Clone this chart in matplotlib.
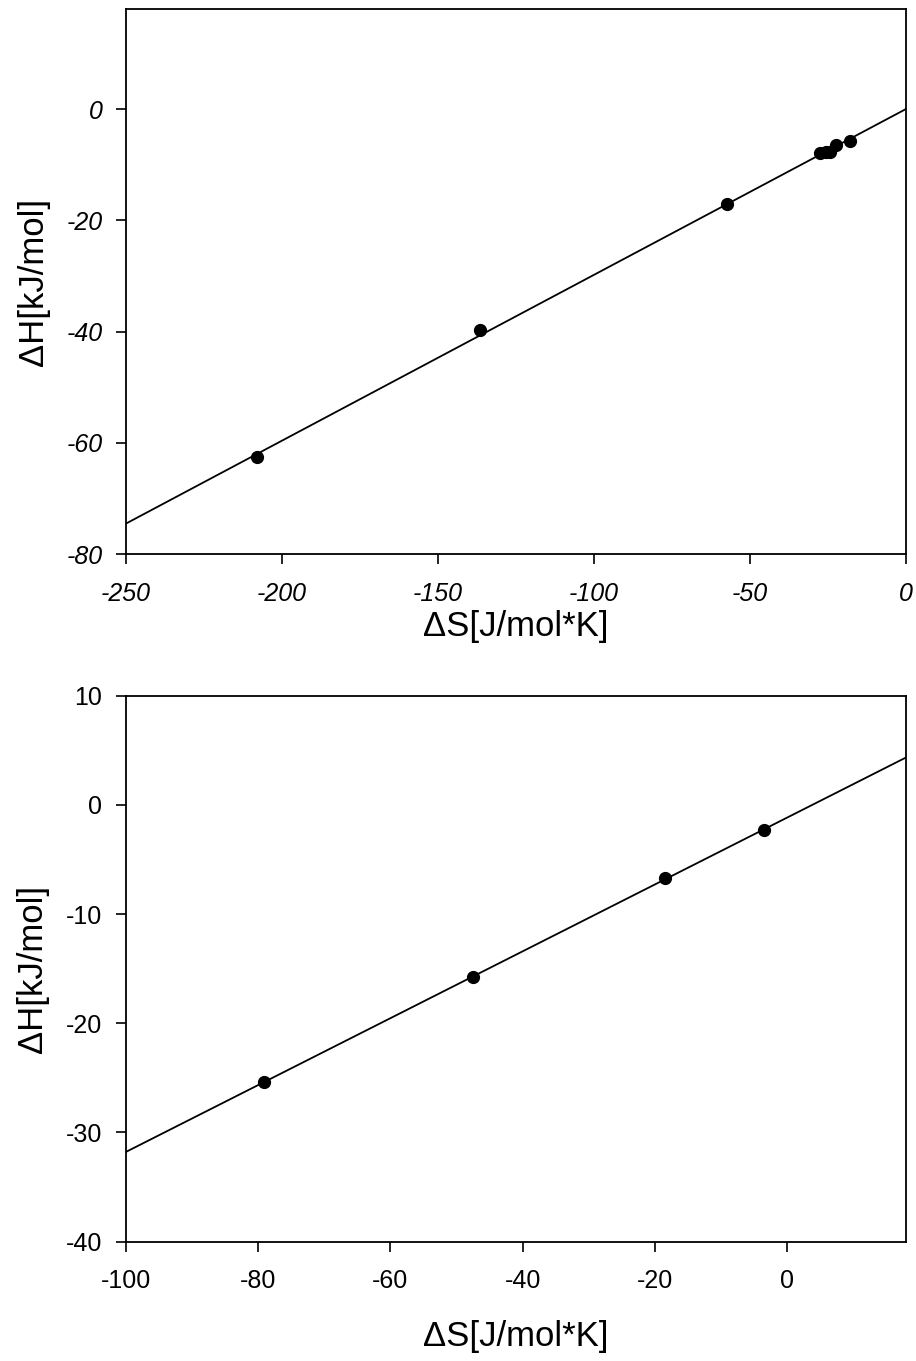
import numpy as np
import matplotlib
matplotlib.use("Agg")
import matplotlib.pyplot as plt

plt.rcParams['font.family'] = ['Liberation Sans', 'DejaVu Sans']

# Series 1 (upper panel)
dS_1 = [-208.0, -136.5, -57.4, -27.6, -25.6, -24.4, -22.6, -18.0]
dH_1 = [-62.6, -39.7, -17.1, -7.9, -7.8, -7.7, -6.4, -5.7]
xticks_1 = [-250, -200, -150, -100, -50, 0]
yticks_1 = [-80, -60, -40, -20, 0]

# Series 2 (lower panel)
dS_2 = [-79.1, -47.5, -18.5, -3.5]
dH_2 = [-25.35, -15.8, -6.7, -2.3]
xticks_2 = [-100, -80, -60, -40, -20, 0]
yticks_2 = [-40, -30, -20, -10, 0, 10]

xlabel = "ΔS[J/mol*K]"
ylabel = "ΔH[kJ/mol]"

fig = plt.figure(figsize=(9.16, 13.61), dpi=100)
ax1 = fig.add_axes([0.1376, 0.5929, 0.8515, 0.4005])
ax2 = fig.add_axes([0.1376, 0.0877, 0.8515, 0.4011])


def panel(ax, xs, ys, xlim, ylim, xticks, yticks, italic, xlabelpad):
    slope, intercept = np.polyfit(xs, ys, 1)
    xl = np.array(xlim)
    ax.plot(xl, slope * xl + intercept, color='black', lw=1.3, zorder=2)
    ax.plot(xs, ys, 'o', color='black', ms=8.5, zorder=3)
    ax.set_xlim(*xlim)
    ax.set_ylim(*ylim)
    ax.set_xticks(xticks)
    ax.set_yticks(yticks)
    style = 'italic' if italic else 'normal'
    ax.set_xticklabels([str(t) for t in xticks], fontsize=18, fontstyle=style)
    ax.set_yticklabels([str(t) for t in yticks], fontsize=18, fontstyle=style)
    ax.tick_params(direction='out', length=7, width=1.2)
    ax.tick_params(axis='x', pad=13)
    ax.tick_params(axis='y', pad=10)
    for s in ax.spines.values():
        s.set_linewidth(1.3)
    ax.set_xlabel(xlabel, fontsize=25, labelpad=xlabelpad)
    ax.set_ylabel(ylabel, fontsize=25, labelpad=12)


panel(ax1, dS_1, dH_1, (-250, 0), (-80, 18), xticks_1, yticks_1, True, 3)
panel(ax2, dS_2, dH_2, (-100, 18), (-40, 10), xticks_2, yticks_2, False, 19)

fig.savefig("out.png", dpi=100)
